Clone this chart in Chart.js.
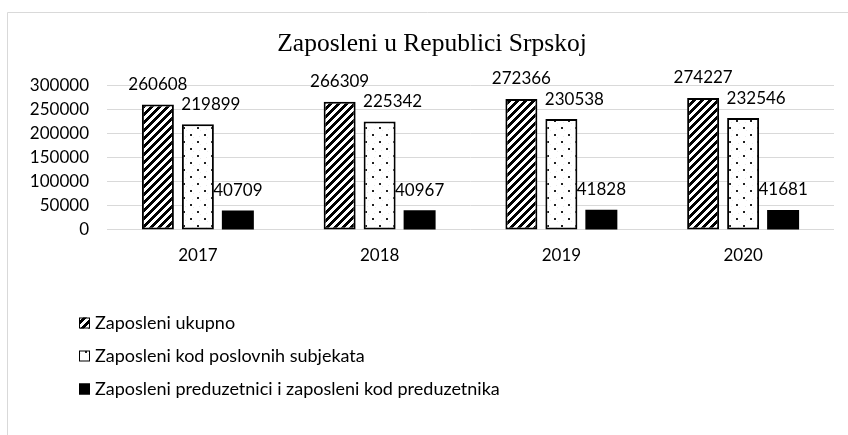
<!DOCTYPE html>
<html>
<head>
<meta charset="utf-8">
<script src="https://cdn.jsdelivr.net/npm/chart.js@4/dist/chart.umd.min.js"></script>
<style>
  body { margin: 0; background: #fff; }
  canvas { display: block; }
</style>
</head>
<body>
<canvas id="myChart" width="848" height="435"></canvas>
<script>
var years = ['2017', '2018', '2019', '2020'];
var ukupno = [260608, 266309, 272366, 274227];
var poslovni = [219899, 225342, 230538, 232546];
var preduzetnici = [40709, 40967, 41828, 41681];
var seriesNames = [
  'Zaposleni ukupno',
  'Zaposleni kod poslovnih subjekata',
  'Zaposleni preduzetnici i zaposleni kod preduzetnika'
];
var yMax = 300000;
var yStep = 50000;

var FONT = 'Lato, "Noto Sans", sans-serif';

// wide upward diagonal, like the excel pattern fill
function stripes() {
  var c = document.createElement('canvas');
  c.width = 8; c.height = 8;
  var g = c.getContext('2d');
  g.fillStyle = '#fff';
  g.fillRect(0, 0, 8, 8);
  g.fillStyle = '#000';
  for (var x = 0; x < 8; x++) {
    for (var y = 0; y < 8; y++) {
      if ((x + y) % 8 < 4) g.fillRect(x, y, 1, 1);
    }
  }
  return g.createPattern(c, 'repeat');
}

// sparse staggered dots
function dots() {
  var c = document.createElement('canvas');
  c.width = 14; c.height = 14;
  var g = c.getContext('2d');
  g.fillStyle = '#fff';
  g.fillRect(0, 0, 14, 14);
  g.fillStyle = '#ececec';
  g.fillRect(3, 10, 1, 1);
  g.fillRect(10, 3, 1, 1);
  g.fillRect(4, 4, 1, 1);
  g.fillRect(11, 11, 1, 1);
  g.fillStyle = '#222';
  g.fillRect(1, 1, 2, 2);
  g.fillRect(8, 8, 2, 2);
  return g.createPattern(c, 'repeat');
}

var fills = [stripes(), dots(), '#000'];

var frame = {
  id: 'frame',
  beforeDraw(chart) {
    var ctx = chart.ctx;
    ctx.save();
    ctx.fillStyle = '#fff';
    ctx.fillRect(0, 0, chart.width, chart.height);
    ctx.strokeStyle = '#d9d9d9';
    ctx.lineWidth = 1;
    ctx.beginPath();
    ctx.moveTo(7.5, chart.height);
    ctx.lineTo(7.5, 12.5);
    ctx.lineTo(chart.width, 12.5);
    ctx.stroke();
    ctx.restore();
  }
};

var valueLabels = {
  id: 'valueLabels',
  afterDatasetsDraw(chart) {
    var ctx = chart.ctx;
    ctx.save();
    ctx.font = '17px ' + FONT;
    ctx.fillStyle = '#000';
    ctx.textAlign = 'center';
    ctx.textBaseline = 'middle';
    chart.data.datasets.forEach(function (ds, i) {
      chart.getDatasetMeta(i).data.forEach(function (bar, j) {
        ctx.fillText(String(ds.data[j]), bar.x + (ds.labelShift || 0), bar.y - 20);
      });
    });
    ctx.restore();
  }
};

var sideLegend = {
  id: 'sideLegend',
  afterDraw(chart) {
    var ctx = chart.ctx;
    ctx.save();
    ctx.font = '18px ' + FONT;
    ctx.textBaseline = 'middle';
    ctx.textAlign = 'left';
    chart.data.datasets.forEach(function (ds, i) {
      var y = 323 + i * 33;
      ctx.fillStyle = ds.backgroundColor;
      ctx.fillRect(79, y - 5.5, 11, 11);
      ctx.strokeStyle = '#000';
      ctx.lineWidth = 1;
      ctx.strokeRect(79.5, y - 5, 10, 10);
      ctx.fillStyle = '#000';
      ctx.fillText(ds.label, 95, y);
    });
    ctx.restore();
  }
};

new Chart(document.getElementById('myChart'), {
  type: 'bar',
  data: {
    labels: years,
    datasets: [
      {
        label: seriesNames[0],
        data: ukupno,
        backgroundColor: fills[0],
        borderColor: '#000',
        borderWidth: 2,
        borderSkipped: false
      },
      {
        label: seriesNames[1],
        data: poslovni,
        backgroundColor: fills[1],
        borderColor: '#000',
        borderWidth: 2,
        borderSkipped: false,
        labelShift: 13
      },
      {
        label: seriesNames[2],
        data: preduzetnici,
        backgroundColor: fills[2],
        borderWidth: 0
      }
    ]
  },
  options: {
    responsive: false,
    devicePixelRatio: 1,
    animation: false,
    categoryPercentage: 0.66,
    barPercentage: 0.8,
    layout: { padding: { left: 30, right: 14, top: 12, bottom: 170 } },
    plugins: {
      legend: { display: false },
      tooltip: { enabled: false },
      title: {
        display: true,
        text: 'Zaposleni u Republici Srpskoj',
        color: '#000',
        font: { family: '"Liberation Serif", "Times New Roman", serif', size: 25.5, weight: 'normal' },
        padding: { top: 17, bottom: 26 }
      }
    },
    scales: {
      x: {
        grid: { display: false, drawTicks: false },
        border: { display: false },
        ticks: { color: '#000', font: { family: FONT, size: 17 }, padding: 15 },
        afterFit: function (s) { s.height = 35; }
      },
      y: {
        min: 0,
        max: yMax,
        ticks: {
          stepSize: yStep,
          autoSkip: false,
          color: '#000',
          font: { family: FONT, size: 17 },
          padding: 18,
          callback: function (v) { return String(v); }
        },
        grid: { color: '#d9d9d9', lineWidth: 1, drawTicks: false },
        border: { display: false },
        afterFit: function (s) { s.width = 77; }
      }
    }
  },
  plugins: [frame, valueLabels, sideLegend]
});
</script>
</body>
</html>
